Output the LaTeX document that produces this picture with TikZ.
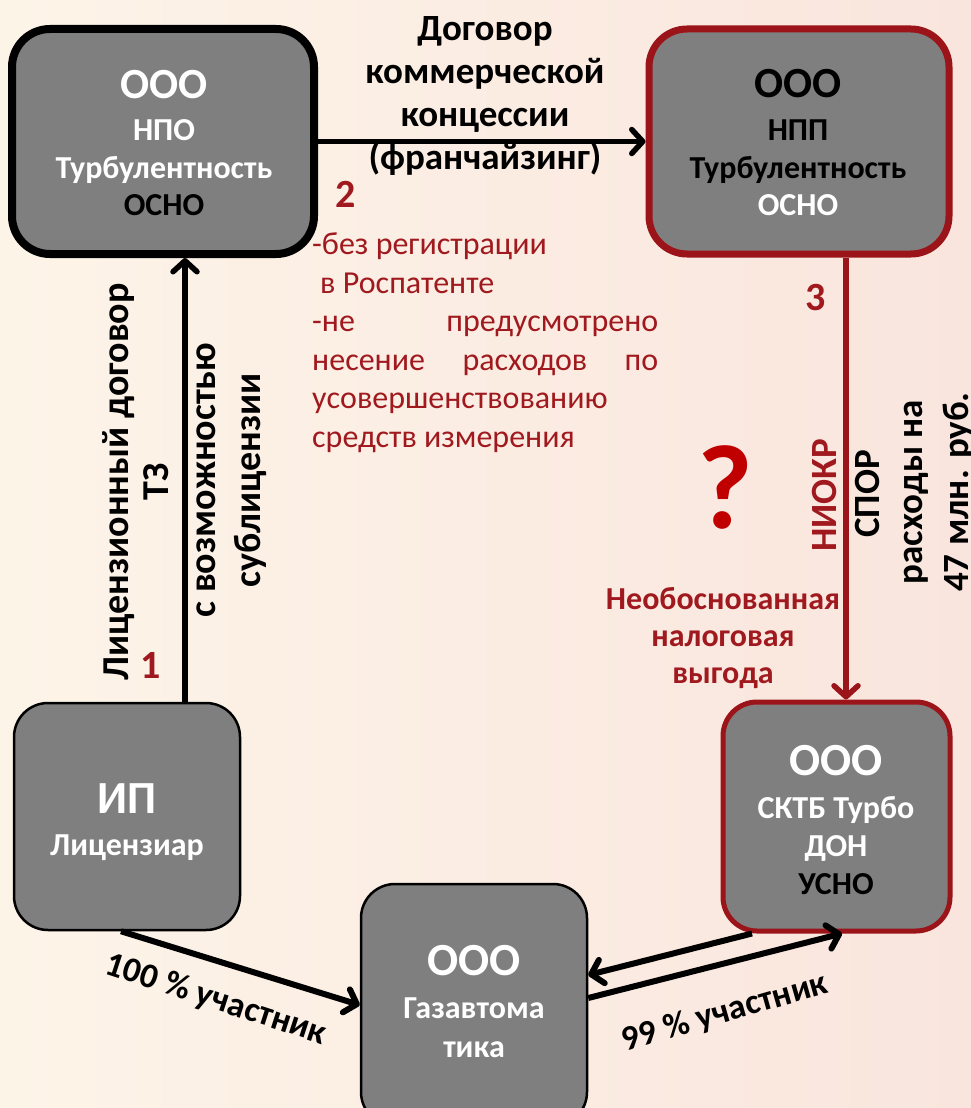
\documentclass[tikz,border=0pt]{standalone}
\usepackage{fontspec}
\setmainfont{Carlito}
\usetikzlibrary{arrows.meta}
\definecolor{boxgray}{HTML}{7F7F7F}
\definecolor{dred}{HTML}{9B1419}
\definecolor{tred}{HTML}{A0191E}
\definecolor{qred}{HTML}{C00000}
\definecolor{bgl}{HTML}{FDF4E8}
\definecolor{bgr}{HTML}{F9E5DD}
\newcommand{\fsz}[2]{\fontsize{#1pt}{#2pt}\selectfont}
\begin{document}
\begin{tikzpicture}[x=1pt,y=-1pt,
  box/.style={rectangle, rounded corners=38pt, fill=boxgray, inner sep=0pt},
  wt/.style={text=white, font=\bfseries\fsz{32}{38}, anchor=base},
  bt/.style={text=black, font=\bfseries\fsz{32}{38}, anchor=base},
  big/.style={font=\bfseries\fsz{43}{46}},
  bigg/.style={font=\bfseries\fsz{46}{50}},
  arr/.style={line width=5.5pt, -{Straight Barb[length=11pt,width=24pt,round]}},
  lab/.style={font=\bfseries\fsz{37}{44}, align=center},
  num/.style={text=tred, font=\bfseries\fsz{40}{44}, anchor=base},
]
\path[use as bounding box, left color=bgl, right color=bgr] (0,0) rectangle (971,1108);

% boxes
\node[box, draw=black, line width=8pt, minimum width=302pt, minimum height=225pt] (A) at (163,141.5) {};
\node[box, draw=dred, line width=7pt, minimum width=300pt, minimum height=225pt] (B) at (799,141.5) {};
\node[box, draw=black, line width=2.5pt, minimum width=226pt, minimum height=227pt, rounded corners=34pt] (C) at (127,816.5) {};
\node[box, draw=dred, line width=5pt, minimum width=227pt, minimum height=229pt, rounded corners=34pt] (D) at (836.5,816.5) {};
\node[box, draw=black, line width=2.5pt, minimum width=226pt, minimum height=242pt, rounded corners=34pt] (E) at (474,1005) {};

% box texts
\node[wt, big] (a1) at (164,99) {ООО};
\node[wt] (a2) at (164,140) {НПО};
\node[wt] (a3) at (164,178) {Турбулентность};
\node[bt] (a4) at (164,215) {ОСНО};

\node[bt, big] (b1) at (798,97) {ООО};
\node[bt] (b2) at (798,140) {НПП};
\node[bt] (b3) at (798,178) {Турбулентность};
\node[wt] (b4) at (798,215) {ОСНО};

\node[wt, bigg] (c1) at (127,813) {ИП};
\node[wt] (c2) at (127,855) {Лицензиар};

\node[wt, bigg] (d1) at (836,775) {ООО};
\node[wt] (d2) at (836,818) {СКТБ Турбо};
\node[wt] (d3) at (836,856) {ДОН};
\node[bt] (d4) at (836,894) {УСНО};

\node[wt, bigg] (e1) at (474,975) {ООО};
\node[wt] (e2) at (474,1018) {Газавтома};
\node[wt] (e3) at (474,1057) {тика};

% reference coordinates
\coordinate (xv) at (185,0);
\coordinate (xr) at (846,0);
\coordinate (x4) at (121,0);
\coordinate (y4) at (0,1005);
\coordinate (x5) at (752,0);
\coordinate (y5) at (0,975);
\coordinate (x6) at (842,0);
\coordinate (y6) at (0,998);

% connectors
\draw[arr] (C.north -| xv) -- (A.south -| xv);
\draw[arr] (A.east) -- (B.west);
\draw[arr, draw=dred] (B.south -| xr) -- (D.north -| xr);
\draw[arr, line width=6pt] (C.south -| x4) -- (E.west |- y4);
\draw[arr, line width=6pt] (D.south -| x5) -- (E.east |- y5);
\draw[arr, line width=6pt] (E.east |- y6) -- (D.south -| x6);

% labels
\node[lab, font=\bfseries\fsz{37}{43}] (l1) at (485,96) {Договор\\коммерческой\\концессии\\(франчайзинг)};
\node[num] (n2) at (346,207) {2};
\node[num] (n1) at (151,678) {1};
\node[num] (n3) at (816,310) {3};

\node[text=tred, font=\fsz{32}{38.5}, anchor=base west, align=left, inner sep=0pt] (red) at (312,447)
 {-без регистрации\\
  \hspace*{8pt}в Роспатенте\\
  \makebox[346pt][s]{-не предусмотрено}\\
  \makebox[346pt][s]{несение расходов по}\\
  усовершенствованию\\
  средств измерения};

\node[lab, rotate=90, font=\bfseries\fsz{38}{40}] (lic) at (136,482) {Лицензионный договор\\ТЗ};
\node[lab, rotate=90, font=\bfseries\fsz{38}{45}] (sub) at (232,480) {с возможностью\\сублицензии};

\node[text=qred, font=\bfseries\fsz{120}{120}, anchor=base] (q) at (725,528) {?};
\node[lab, rotate=90, text=tred] (niokr) at (824,495) {НИОКР};
\node[lab, rotate=90] (spor) at (867,494) {СПОР};
\node[lab, rotate=90, font=\bfseries\fsz{37}{46}] (rash) at (939,492) {расходы на\\47 млн. руб.};
\node[lab, text=tred, font=\bfseries\fsz{32}{37}] (neob) at (723,638) {Необоснованная\\налоговая\\выгода};

\node[font=\bfseries\fsz{35}{38}, rotate=-18] (p100) at (216,1000) {100 \% участник};
\node[font=\bfseries\fsz{35}{38}, rotate=16] (p99) at (725,1013) {99 \% участник};
\end{tikzpicture}
\end{document}
